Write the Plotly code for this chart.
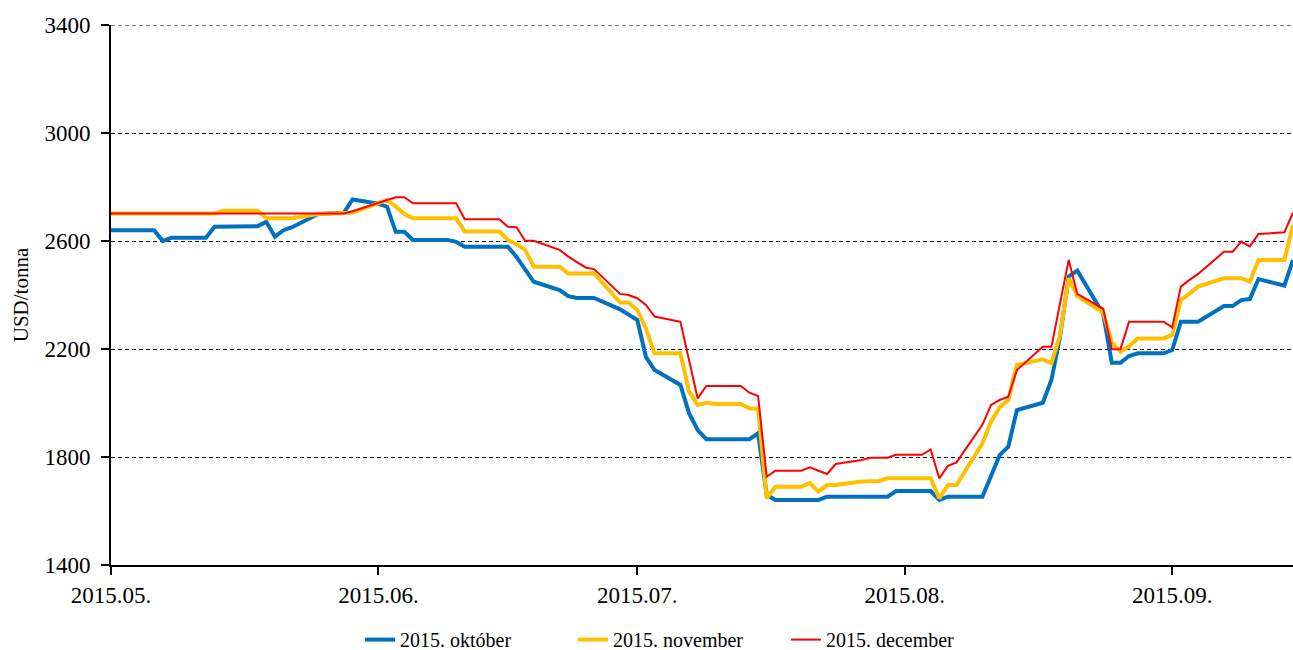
import plotly.graph_objects as go

# --- 2015. október contract (USD/tonna) ---
okt_dates = ["2015-05-01", "2015-05-06", "2015-05-07", "2015-05-08", "2015-05-12", "2015-05-13",
             "2015-05-18", "2015-05-19", "2015-05-20", "2015-05-21", "2015-05-22", "2015-05-25",
             "2015-05-28", "2015-05-29", "2015-06-01", "2015-06-02", "2015-06-03", "2015-06-04",
             "2015-06-05", "2015-06-09", "2015-06-10", "2015-06-11", "2015-06-16", "2015-06-17",
             "2015-06-18", "2015-06-19", "2015-06-22", "2015-06-23", "2015-06-24", "2015-06-26",
             "2015-06-29", "2015-06-30", "2015-07-01", "2015-07-02", "2015-07-03", "2015-07-06",
             "2015-07-07", "2015-07-08", "2015-07-09", "2015-07-14", "2015-07-15", "2015-07-16",
             "2015-07-17", "2015-07-22", "2015-07-23", "2015-07-30", "2015-07-31", "2015-08-04",
             "2015-08-05", "2015-08-06", "2015-08-10", "2015-08-11", "2015-08-12", "2015-08-13",
             "2015-08-14", "2015-08-17", "2015-08-18", "2015-08-19", "2015-08-20", "2015-08-21",
             "2015-08-24", "2015-08-25", "2015-08-26", "2015-08-27", "2015-08-28", "2015-08-31",
             "2015-09-01", "2015-09-02", "2015-09-04", "2015-09-07", "2015-09-08", "2015-09-09",
             "2015-09-10", "2015-09-11", "2015-09-14", "2015-09-15"]
okt_usd = [2640, 2640, 2600, 2612, 2612, 2653,
           2655, 2671, 2616, 2640, 2651, 2700,
           2705, 2754, 2738, 2727, 2634, 2634,
           2604, 2604, 2597, 2579, 2579, 2541,
           2495, 2449, 2418, 2396, 2389, 2389,
           2347, 2328, 2307, 2171, 2122, 2067,
           1962, 1900, 1866, 1866, 1888, 1660,
           1641, 1641, 1653, 1653, 1674, 1674,
           1641, 1653, 1653, 1730, 1807, 1838,
           1974, 2001, 2085, 2246, 2468, 2490,
           2330, 2149, 2149, 2174, 2184, 2184,
           2196, 2301, 2301, 2359, 2359, 2381,
           2385, 2459, 2435, 2530]

# --- 2015. november contract ---
nov_dates = ["2015-05-01", "2015-05-13", "2015-05-14", "2015-05-18", "2015-05-19", "2015-05-22",
             "2015-05-25", "2015-05-28", "2015-05-29", "2015-06-01", "2015-06-02", "2015-06-03",
             "2015-06-04", "2015-06-05", "2015-06-10", "2015-06-11", "2015-06-15", "2015-06-16",
             "2015-06-17", "2015-06-18", "2015-06-19", "2015-06-22", "2015-06-23", "2015-06-26",
             "2015-06-29", "2015-06-30", "2015-07-01", "2015-07-02", "2015-07-03", "2015-07-06",
             "2015-07-07", "2015-07-08", "2015-07-09", "2015-07-10", "2015-07-13", "2015-07-14",
             "2015-07-15", "2015-07-16", "2015-07-17", "2015-07-20", "2015-07-21", "2015-07-22",
             "2015-07-23", "2015-07-24", "2015-07-27", "2015-07-29", "2015-07-30", "2015-08-04",
             "2015-08-05", "2015-08-06", "2015-08-07", "2015-08-10", "2015-08-11", "2015-08-12",
             "2015-08-13", "2015-08-14", "2015-08-17", "2015-08-18", "2015-08-19", "2015-08-20",
             "2015-08-21", "2015-08-24", "2015-08-25", "2015-08-26", "2015-08-27", "2015-08-28",
             "2015-08-31", "2015-09-01", "2015-09-02", "2015-09-03", "2015-09-04", "2015-09-07",
             "2015-09-09", "2015-09-10", "2015-09-11", "2015-09-14", "2015-09-15"]
nov_usd = [2702, 2702, 2712, 2712, 2684, 2684,
           2700, 2702, 2705, 2740, 2752, 2728,
           2700, 2684, 2684, 2635, 2635, 2604,
           2588, 2567, 2505, 2505, 2480, 2480,
           2372, 2372, 2344, 2276, 2184, 2184,
           2042, 1993, 2001, 1996, 1996, 1980,
           1980, 1647, 1690, 1690, 1703, 1672,
           1696, 1696, 1709, 1711, 1721, 1721,
           1647, 1696, 1696, 1851, 1931, 1984,
           2011, 2141, 2162, 2147, 2252, 2462,
           2396, 2335, 2225, 2190, 2210, 2239,
           2239, 2252, 2381, 2405, 2431, 2462,
           2462, 2449, 2530, 2530, 2660]

# --- 2015. december contract ---
dec_dates = ["2015-05-01", "2015-05-28", "2015-05-29", "2015-06-01", "2015-06-02", "2015-06-03",
             "2015-06-04", "2015-06-05", "2015-06-10", "2015-06-11", "2015-06-15", "2015-06-16",
             "2015-06-17", "2015-06-18", "2015-06-19", "2015-06-22", "2015-06-23", "2015-06-24",
             "2015-06-25", "2015-06-26", "2015-06-29", "2015-06-30", "2015-07-01", "2015-07-02",
             "2015-07-03", "2015-07-06", "2015-07-07", "2015-07-08", "2015-07-09", "2015-07-13",
             "2015-07-14", "2015-07-15", "2015-07-16", "2015-07-17", "2015-07-20", "2015-07-21",
             "2015-07-22", "2015-07-23", "2015-07-24", "2015-07-27", "2015-07-28", "2015-07-30",
             "2015-07-31", "2015-08-03", "2015-08-04", "2015-08-05", "2015-08-06", "2015-08-07",
             "2015-08-10", "2015-08-11", "2015-08-12", "2015-08-13", "2015-08-14", "2015-08-17",
             "2015-08-18", "2015-08-19", "2015-08-20", "2015-08-21", "2015-08-24", "2015-08-25",
             "2015-08-26", "2015-08-27", "2015-08-31", "2015-09-01", "2015-09-02", "2015-09-03",
             "2015-09-04", "2015-09-07", "2015-09-08", "2015-09-09", "2015-09-10", "2015-09-11",
             "2015-09-14", "2015-09-15"]
dec_usd = [2702, 2702, 2710, 2740, 2752, 2762,
           2762, 2740, 2740, 2681, 2681, 2653,
           2651, 2601, 2601, 2567, 2542, 2523,
           2502, 2496, 2404, 2400, 2388, 2363,
           2320, 2301, 2160, 2017, 2063, 2063,
           2038, 2026, 1727, 1749, 1749, 1762,
           1749, 1737, 1774, 1789, 1797, 1797,
           1808, 1808, 1828, 1721, 1767, 1780,
           1919, 1993, 2011, 2023, 2122, 2208,
           2208, 2370, 2530, 2404, 2349, 2199,
           2199, 2301, 2301, 2280, 2431, 2456,
           2478, 2560, 2560, 2598, 2580, 2626,
           2632, 2705]

series_names = ["2015. október", "2015. november", "2015. december"]
series_colors = ["#0070C0", "#FFC000", "#FF0000"]
series_widths = [4, 4, 2]

y_min, y_max, y_step = 1400, 3400, 400

FONT = "Liberation Serif"
GRID_DASH = "4px,3px"

fig = go.Figure()
for name, dates, vals, color, width in zip(
        series_names, [okt_dates, nov_dates, dec_dates], [okt_usd, nov_usd, dec_usd],
        series_colors, series_widths):
    fig.add_trace(go.Scatter(x=dates, y=vals, mode="lines", name=name,
                             line=dict(color=color, width=width)))

# dashed rule along the top edge of the plot (top gridline)
fig.add_shape(type="line", xref="paper", x0=0, x1=1, yref="y", y0=y_max, y1=y_max,
              line=dict(color="black", width=1, dash=GRID_DASH), layer="below")

fig.update_layout(
    width=1293, height=650,
    margin=dict(l=111, r=0, t=25, b=85, autoexpand=False),
    paper_bgcolor="white", plot_bgcolor="white",
    font=dict(family=FONT, color="black"),
    showlegend=True,
    legend=dict(orientation="h", x=0.481, xanchor="center",
                yref="container", y=0.016, yanchor="middle",
                font=dict(family=FONT, size=20, color="black"), entrywidth=168,
                traceorder="normal"),
)

fig.update_xaxes(
    type="date", range=["2015-05-01", "2015-09-15"],
    tick0="2015-05-01", dtick="M1", tickformat="%Y.%m.",
    showgrid=False, zeroline=False, automargin=False,
    showline=True, linecolor="black", linewidth=2,
    ticks="outside", ticklen=8, tickwidth=2, tickcolor="black",
    tickfont=dict(family=FONT, size=23, color="black"),
)

fig.update_yaxes(
    range=[y_min, y_max], tick0=y_min, dtick=y_step,
    showgrid=True, gridcolor="black", gridwidth=1, griddash=GRID_DASH,
    zeroline=False, automargin=False,
    showline=True, linecolor="black", linewidth=2,
    ticks="outside", ticklen=8, tickwidth=2, tickcolor="black",
    ticklabelstandoff=6,
    tickfont=dict(family=FONT, size=23, color="black"),
    title=dict(text="USD/tonna", font=dict(family=FONT, size=21, color="black"), standoff=10),
)

fig.write_html("out.html")
